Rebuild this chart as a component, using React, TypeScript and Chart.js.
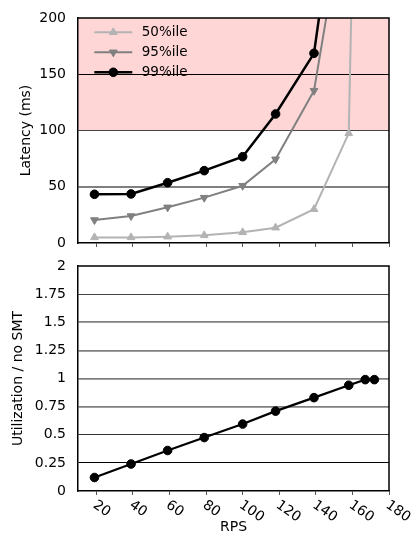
import React, { useEffect, useRef } from 'react';
import { Chart, registerables } from 'chart.js';

Chart.register(...registerables);

// ---- data ----
const rps = [19, 39, 59, 79, 100, 118, 139, 158, 167, 172];
const lat50 = [5, 5, 5.6, 6.8, 9.5, 13.6, 30, 97.5, 800];
const lat95 = [20.4, 24, 31.7, 40.3, 50.9, 74.4, 135.4, 319];
const lat99 = [43.3, 43.6, 53.6, 64.3, 76.7, 114.7, 168.6, 388];
const utilization = [0.12, 0.24, 0.36, 0.475, 0.595, 0.71, 0.83, 0.94, 0.99, 0.99];
const rpsTicks = [20, 40, 60, 80, 100, 120, 140, 160, 180];
const latencyTicks = [0, 50, 100, 150, 200];
const utilTicks = [0, 0.25, 0.5, 0.75, 1, 1.25, 1.5, 1.75, 2];
const seriesNames = ['50%ile', '95%ile', '99%ile'];
const sloFrom = 100;
const sloTo = 200;

const FONT = "'DejaVu Sans', sans-serif";

function pts(ys: number[]) {
  return ys.map((y, i) => ({ x: rps[i], y }));
}

function drawMarker(ctx: CanvasRenderingContext2D, style: string, x: number, y: number, r: number, rotDeg: number) {
  ctx.beginPath();
  if (style === 'triangle') {
    let rad = (rotDeg * Math.PI) / 180;
    ctx.moveTo(x + Math.sin(rad) * r, y - Math.cos(rad) * r);
    rad += (2 * Math.PI) / 3;
    ctx.lineTo(x + Math.sin(rad) * r, y - Math.cos(rad) * r);
    rad += (2 * Math.PI) / 3;
    ctx.lineTo(x + Math.sin(rad) * r, y - Math.cos(rad) * r);
    ctx.closePath();
  } else {
    ctx.arc(x, y, r, 0, Math.PI * 2);
  }
  ctx.fill();
  ctx.stroke();
}

const framePlugin = {
  id: 'frame',
  afterDraw(chart: any) {
    const { ctx, chartArea: a } = chart;
    ctx.save();
    ctx.strokeStyle = '#000';
    ctx.lineWidth = 1.5;
    ctx.beginPath();
    ctx.moveTo(a.left, a.top);
    ctx.lineTo(a.right, a.top);
    ctx.lineTo(a.right, a.bottom);
    ctx.stroke();
    ctx.restore();
  },
};

const bandPlugin = {
  id: 'band',
  beforeDraw(chart: any) {
    const { ctx, chartArea: a, scales } = chart;
    const y1 = scales.y.getPixelForValue(sloTo);
    const y2 = scales.y.getPixelForValue(sloFrom);
    ctx.save();
    ctx.fillStyle = '#ffd6d6';
    ctx.fillRect(a.left, y1, a.right - a.left, y2 - y1);
    ctx.restore();
  },
};

const legendPlugin = {
  id: 'insideLegend',
  afterDatasetsDraw(chart: any) {
    const { ctx, chartArea: a } = chart;
    ctx.save();
    chart.data.datasets.forEach((ds: any, i: number) => {
      const y = a.top + 14.3 + 20 * i;
      ctx.strokeStyle = ds.borderColor;
      ctx.lineWidth = ds.borderWidth;
      ctx.beginPath();
      ctx.moveTo(a.left + 16.3, y);
      ctx.lineTo(a.left + 54.3, y);
      ctx.stroke();
      ctx.fillStyle = ds.pointBackgroundColor;
      ctx.strokeStyle = ds.pointBorderColor;
      ctx.lineWidth = ds.pointBorderWidth;
      drawMarker(ctx, ds.pointStyle, a.left + 35.3, y, ds.pointRadius, ds.pointRotation || 0);
      ctx.fillStyle = '#000';
      ctx.font = `13.5px ${FONT}`;
      ctx.textAlign = 'left';
      ctx.textBaseline = 'middle';
      ctx.fillText(ds.label, a.left + 63.7, y + 0.5);
    });
    ctx.restore();
  },
};

const rotatedXLabels = {
  id: 'rotatedXLabels',
  afterDraw(chart: any) {
    const { ctx, chartArea: a, scales } = chart;
    ctx.save();
    ctx.fillStyle = '#000';
    ctx.font = `14px ${FONT}`;
    ctx.textAlign = 'left';
    ctx.textBaseline = 'top';
    rpsTicks.forEach((v) => {
      const x = scales.x.getPixelForValue(v);
      ctx.save();
      ctx.translate(x + 2, a.bottom + 7);
      ctx.rotate((35 * Math.PI) / 180);
      ctx.fillText(String(v), 0, 0);
      ctx.restore();
    });
    ctx.restore();
  },
};

function topGridColor(v: number) {
  if (v === 50) return '#808080';
  if (v === 100) return '#444';
  if (v === 150) return '#000';
  return 'rgba(0,0,0,0)';
}
function topGridWidth(v: number) {
  return v === 50 ? 2 : 1;
}
function botGridColor(v: number) {
  if (v === 0.25) return '#000';
  if (v === 0.5) return '#333';
  if (v === 1.75) return '#444';
  if (v === 0 || v === 2) return 'rgba(0,0,0,0)';
  return '#808080';
}
function botGridWidth(v: number) {
  if (v === 0.25 || v === 0.5 || v === 1.75) return 1;
  return 1.7;
}

function xAxis(height: number, showTitle: boolean) {
  return {
    type: 'linear' as const,
    min: 10,
    max: 180,
    afterBuildTicks: (s: any) => {
      s.ticks = rpsTicks.map((v) => ({ value: v }));
    },
    afterFit: (s: any) => {
      s.height = height;
    },
    ticks: { display: false },
    grid: { drawOnChartArea: false, drawTicks: true, tickLength: 4, tickColor: '#555', tickWidth: 1 },
    border: { color: '#000', width: 1.5 },
    title: { display: showTitle, text: 'RPS', padding: { top: 0, bottom: 0 }, font: { size: 14, family: FONT }, color: '#000' },
  };
}

function yGrid(colorFn: (v: number) => string, widthFn: (v: number) => number) {
  return {
    drawTicks: true,
    tickLength: 12,
    tickColor: 'rgba(0,0,0,0)',
    color: (c: any) => colorFn(c.tick?.value),
    lineWidth: (c: any) => widthFn(c.tick?.value),
  };
}

export default function App() {
  const topRef = useRef<HTMLCanvasElement>(null);
  const botRef = useRef<HTMLCanvasElement>(null);

  useEffect(() => {
    Chart.defaults.font.family = FONT;
    Chart.defaults.font.size = 14;
    Chart.defaults.color = '#000';

    const topChart = new Chart(topRef.current as HTMLCanvasElement, {
      type: 'line',
      data: {
        datasets: [
          {
            label: seriesNames[0],
            data: pts(lat50),
            borderColor: '#b3b3b3',
            backgroundColor: '#b3b3b3',
            pointBackgroundColor: '#b3b3b3',
            pointBorderColor: '#b3b3b3',
            borderWidth: 2,
            pointStyle: 'triangle',
            pointRadius: 4.5,
            pointBorderWidth: 1,
            pointRotation: 0,
            order: 3,
          },
          {
            label: seriesNames[1],
            data: pts(lat95),
            borderColor: '#808080',
            backgroundColor: '#808080',
            pointBackgroundColor: '#808080',
            pointBorderColor: '#808080',
            borderWidth: 2,
            pointStyle: 'triangle',
            pointRadius: 4.5,
            pointBorderWidth: 1,
            pointRotation: 180,
            order: 2,
          },
          {
            label: seriesNames[2],
            data: pts(lat99),
            borderColor: '#000',
            backgroundColor: '#000',
            pointBackgroundColor: '#000',
            pointBorderColor: '#000',
            borderWidth: 2.5,
            pointStyle: 'circle',
            pointRadius: 4.3,
            pointBorderWidth: 1,
            pointRotation: 0,
            order: 1,
          },
        ] as any,
      },
      options: {
        animation: false,
        responsive: true,
        maintainAspectRatio: false,
        layout: { padding: { left: 0, right: 30, top: 18, bottom: 0 } },
        plugins: { legend: { display: false }, tooltip: { enabled: false } },
        scales: {
          x: xAxis(9, false) as any,
          y: {
            min: 0,
            max: 200,
            afterBuildTicks: (s: any) => {
              s.ticks = latencyTicks.map((v) => ({ value: v }));
            },
            afterFit: (s: any) => {
              s.width = 78;
            },
            ticks: { padding: 0, callback: (v: any) => String(v), font: { size: 14, family: FONT }, color: '#000' },
            grid: yGrid(topGridColor, topGridWidth),
            border: { color: '#000', width: 1.5 },
            title: { display: true, text: 'Latency (ms)', padding: { top: 18, bottom: 0 }, font: { size: 14, family: FONT }, color: '#000' },
          } as any,
        },
      },
      plugins: [bandPlugin, framePlugin, legendPlugin],
    });

    const botChart = new Chart(botRef.current as HTMLCanvasElement, {
      type: 'line',
      data: {
        datasets: [
          {
            label: 'Utilization',
            data: utilization.map((y, i) => ({ x: rps[i], y })),
            borderColor: '#000',
            backgroundColor: '#000',
            pointBackgroundColor: '#000',
            pointBorderColor: '#000',
            borderWidth: 2.2,
            pointStyle: 'circle',
            pointRadius: 4.3,
            pointBorderWidth: 1,
          },
        ] as any,
      },
      options: {
        animation: false,
        responsive: true,
        maintainAspectRatio: false,
        layout: { padding: { left: 0, right: 30, top: 16, bottom: 0 } },
        plugins: { legend: { display: false }, tooltip: { enabled: false } },
        scales: {
          x: xAxis(45, true) as any,
          y: {
            min: 0,
            max: 2,
            afterBuildTicks: (s: any) => {
              s.ticks = utilTicks.map((v) => ({ value: v }));
            },
            afterFit: (s: any) => {
              s.width = 78;
            },
            ticks: { padding: 0, callback: (v: any) => String(v), font: { size: 14, family: FONT }, color: '#000' },
            grid: yGrid(botGridColor, botGridWidth),
            border: { color: '#000', width: 1.5 },
            title: { display: true, text: 'Utilization / no SMT', padding: { top: 9.6, bottom: 0 }, font: { size: 14, family: FONT }, color: '#000' },
          } as any,
        },
      },
      plugins: [framePlugin, rotatedXLabels],
    });

    return () => {
      topChart.destroy();
      botChart.destroy();
    };
  }, []);

  return (
    <div style={{ position: 'absolute', left: 0, top: 0, width: 419, height: 536, background: '#fff' }}>
      <div style={{ position: 'absolute', left: 0, top: 0, width: 419, height: 252 }}>
        <canvas ref={topRef} />
      </div>
      <div style={{ position: 'absolute', left: 0, top: 250, width: 419, height: 286 }}>
        <canvas ref={botRef} />
      </div>
    </div>
  );
}
